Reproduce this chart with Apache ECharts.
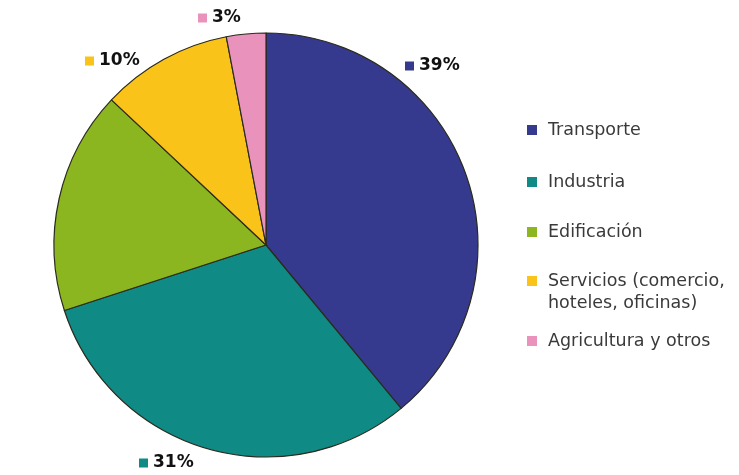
<!DOCTYPE html>
<html><head><meta charset="utf-8">
<script src="https://cdn.jsdelivr.net/npm/echarts@6/dist/echarts.min.js"></script>
<style>html,body{margin:0;padding:0;background:#fff}#c{width:739px;height:475px}</style>
</head><body><div id="c"></div>
<script>
const categories = ['Transporte', 'Industria', 'Edificación', 'Servicios (comercio, hoteles, oficinas)', 'Agricultura y otros'];
const values = [39, 31, 17, 10, 3];
const colors = ['#363a8e', '#0f8a84', '#8cb61f', '#f9c31a', '#e992bb'];
const labelPos = [[405, 66], [139, 463], [14, 221], [85, 61], [198, 18]];
const legendCenters = [130, 182, 232, 281, 341];

const chart = echarts.init(document.getElementById('c'), null, {renderer: 'canvas'});
const FONT = 'DejaVu Sans';
const legends = categories.map((name, i) => {
  const multi = i === 3;
  return {
    orient: 'vertical', left: 527,
    top: multi ? legendCenters[i] - 33 : legendCenters[i] - 11,
    padding: 0, itemWidth: 10, itemHeight: 10, icon: 'rect',
    itemStyle: {borderWidth: 0},
    selectedMode: false,
    data: [name],
    formatter: n => multi ? ' \nServicios (comercio,\nhoteles, oficinas)' : n,
    textStyle: {
      fontFamily: FONT, fontSize: 17.5, color: '#3a3a3a',
      lineHeight: 22,
      padding: [0, 0, 0, 6]
    }
  };
});

chart.setOption({
  animation: false,
  color: colors,
  legend: legends,
  series: [{
    type: 'pie',
    center: [266, 245],
    radius: 212,
    startAngle: 90,
    clockwise: true,
    data: categories.map((n, i) => ({
      name: n, value: values[i],
      label: {
        formatter: '{sq| }{v|' + values[i] + '%}',
        rich: {
          sq: {width: 9, height: 9, backgroundColor: colors[i]},
          v: {fontFamily: FONT, fontWeight: 'bold', fontSize: 17, color: '#111', padding: [0, 0, 0, 5]}
        }
      }
    })),
    itemStyle: {borderColor: '#2a2a1e', borderWidth: 1.2},
    label: {show: true, position: 'outside'},
    labelLine: {show: false},
    labelLayout: p => ({x: labelPos[p.dataIndex][0], y: labelPos[p.dataIndex][1], align: 'left', verticalAlign: 'middle'}),
    emphasis: {disabled: true}
  }]
});
</script></body></html>
